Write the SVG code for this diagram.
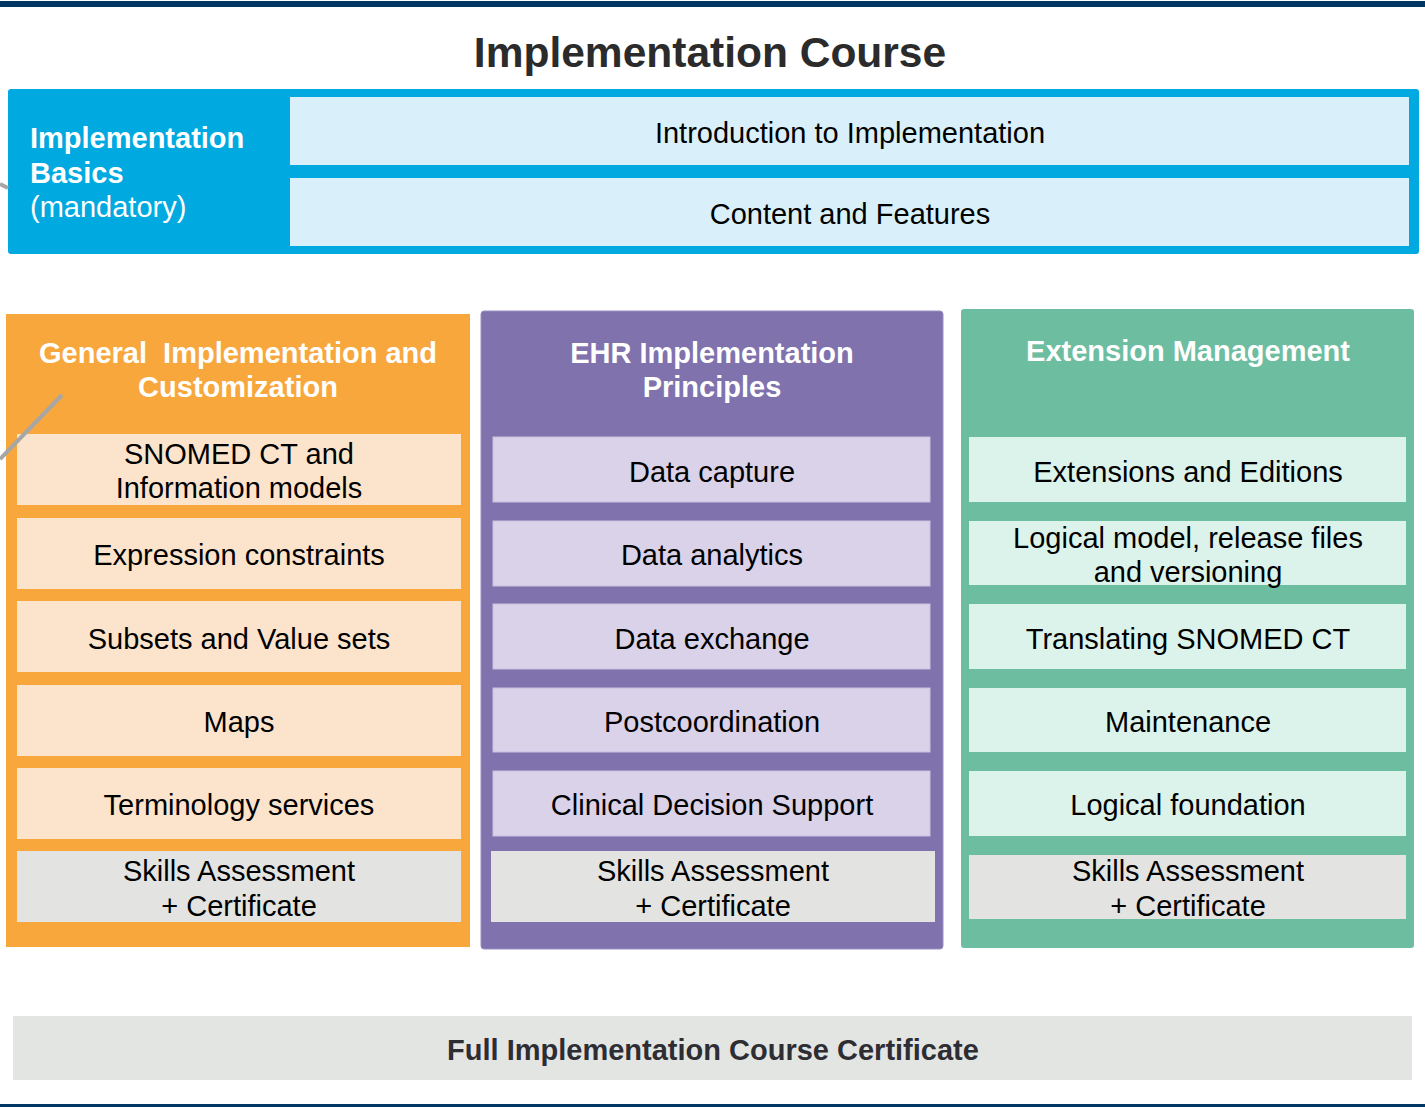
<svg xmlns="http://www.w3.org/2000/svg" width="1425" height="1107" viewBox="0 0 1425 1107">
<style>
.t{font-family:"Liberation Sans",Arial,sans-serif;text-anchor:middle;fill:#000;font-size:29px}
.h{font-family:"Liberation Sans",Arial,sans-serif;text-anchor:middle;fill:#fff;font-size:29px;font-weight:bold}
.cb{fill:#d9f0fa}
.co{fill:#fce4cc}
.cp{fill:#d9d2e9;stroke:#c9c0e0;stroke-width:1}
.cg{fill:#dcf3ec}
.sk{fill:#e3e4e2}
</style>
<rect width="1425" height="1107" fill="#fff"/>
<rect x="0" y="1" width="1425" height="6" fill="#003764"/>
<rect x="0" y="1104" width="1425" height="3" fill="#003764"/>
<text x="710" y="67" style="font-family:'Liberation Sans',Arial,sans-serif;font-size:42.5px;font-weight:bold;fill:#2b2b2b;text-anchor:middle">Implementation Course</text>
<g id="basics">
<rect x="8" y="89" width="1411" height="165" rx="3" fill="#00aae0"/>
<text x="30" y="148" style="font-family:'Liberation Sans',Arial,sans-serif;font-size:29px;font-weight:bold;fill:#fff">Implementation</text>
<text x="30" y="183" style="font-family:'Liberation Sans',Arial,sans-serif;font-size:29px;font-weight:bold;fill:#fff">Basics</text>
<text x="30" y="217" style="font-family:'Liberation Sans',Arial,sans-serif;font-size:29px;fill:#fff">(mandatory)</text>
</g>
<g id="intro"><rect class="cb" x="290" y="97" width="1119" height="68"/><text class="t" x="850" y="143">Introduction to Implementation</text></g>
<g id="content"><rect class="cb" x="290" y="178" width="1119" height="68"/><text class="t" x="850" y="224">Content and Features</text></g>

<g id="general">
<rect x="6" y="314" width="464" height="633" fill="#f8a73d"/>
<text class="h" x="238" y="363" xml:space="preserve">General  Implementation and</text>
<text class="h" x="238" y="397">Customization</text>
</g>
<g id="g1"><rect class="co" x="17" y="434" width="444" height="71"/><text class="t" x="239" y="464">SNOMED CT and</text><text class="t" x="239" y="498">Information models</text></g>
<g id="g2"><rect class="co" x="17" y="518" width="444" height="71"/><text class="t" x="239" y="565">Expression constraints</text></g>
<g id="g3"><rect class="co" x="17" y="601" width="444" height="71"/><text class="t" x="239" y="649">Subsets and Value sets</text></g>
<g id="g4"><rect class="co" x="17" y="685" width="444" height="71"/><text class="t" x="239" y="732">Maps</text></g>
<g id="g5"><rect class="co" x="17" y="768" width="444" height="71"/><text class="t" x="239" y="815">Terminology services</text></g>
<g id="g6"><rect class="sk" x="17" y="851" width="444" height="71"/><text class="t" x="239" y="881">Skills Assessment</text><text class="t" x="239" y="916">+ Certificate</text></g>

<g id="ehr">
<rect x="481" y="311" width="462" height="638" rx="3" fill="#8072ad" stroke="#9a8fc2" stroke-width="1"/>
<text class="h" x="712" y="363">EHR Implementation</text>
<text class="h" x="712" y="397">Principles</text>
</g>
<g id="e1"><rect class="cp" x="493" y="437" width="437" height="65"/><text class="t" x="712" y="482">Data capture</text></g>
<g id="e2"><rect class="cp" x="493" y="521" width="437" height="65"/><text class="t" x="712" y="565">Data analytics</text></g>
<g id="e3"><rect class="cp" x="493" y="604" width="437" height="65"/><text class="t" x="712" y="649">Data exchange</text></g>
<g id="e4"><rect class="cp" x="493" y="688" width="437" height="64"/><text class="t" x="712" y="732">Postcoordination</text></g>
<g id="e5"><rect class="cp" x="493" y="771" width="437" height="65"/><text class="t" x="712" y="815">Clinical Decision Support</text></g>
<g id="e6"><rect class="sk" x="491" y="851" width="444" height="71"/><text class="t" x="713" y="881">Skills Assessment</text><text class="t" x="713" y="916">+ Certificate</text></g>

<g id="extension">
<rect x="961" y="309" width="453" height="639" rx="3" fill="#6dbda1"/>
<text class="h" x="1188" y="361">Extension Management</text>
</g>
<g id="x1"><rect class="cg" x="969" y="437" width="437" height="65"/><text class="t" x="1188" y="482">Extensions and Editions</text></g>
<g id="x2"><rect class="cg" x="969" y="521" width="437" height="64"/><text class="t" x="1188" y="548">Logical model, release files</text><text class="t" x="1188" y="582">and versioning</text></g>
<g id="x3"><rect class="cg" x="969" y="604" width="437" height="65"/><text class="t" x="1188" y="649">Translating SNOMED CT</text></g>
<g id="x4"><rect class="cg" x="969" y="688" width="437" height="64"/><text class="t" x="1188" y="732">Maintenance</text></g>
<g id="x5"><rect class="cg" x="969" y="771" width="437" height="65"/><text class="t" x="1188" y="815">Logical foundation</text></g>
<g id="x6"><rect class="sk" x="969" y="855" width="437" height="64"/><text class="t" x="1188" y="881">Skills Assessment</text><text class="t" x="1188" y="916">+ Certificate</text></g>

<g id="full">
<rect x="13" y="1016" width="1399" height="64" fill="#e3e5e3"/>
<text x="713" y="1060" style="font-family:'Liberation Sans',Arial,sans-serif;font-size:29px;font-weight:bold;fill:#2d2d33;text-anchor:middle">Full Implementation Course Certificate</text>
</g>
<g id="connectors" stroke="#a6a6a6" stroke-width="4" fill="none">
<line x1="0" y1="184" x2="8" y2="188"/>
<line x1="62" y1="395" x2="0" y2="459"/>
</g>
</svg>
